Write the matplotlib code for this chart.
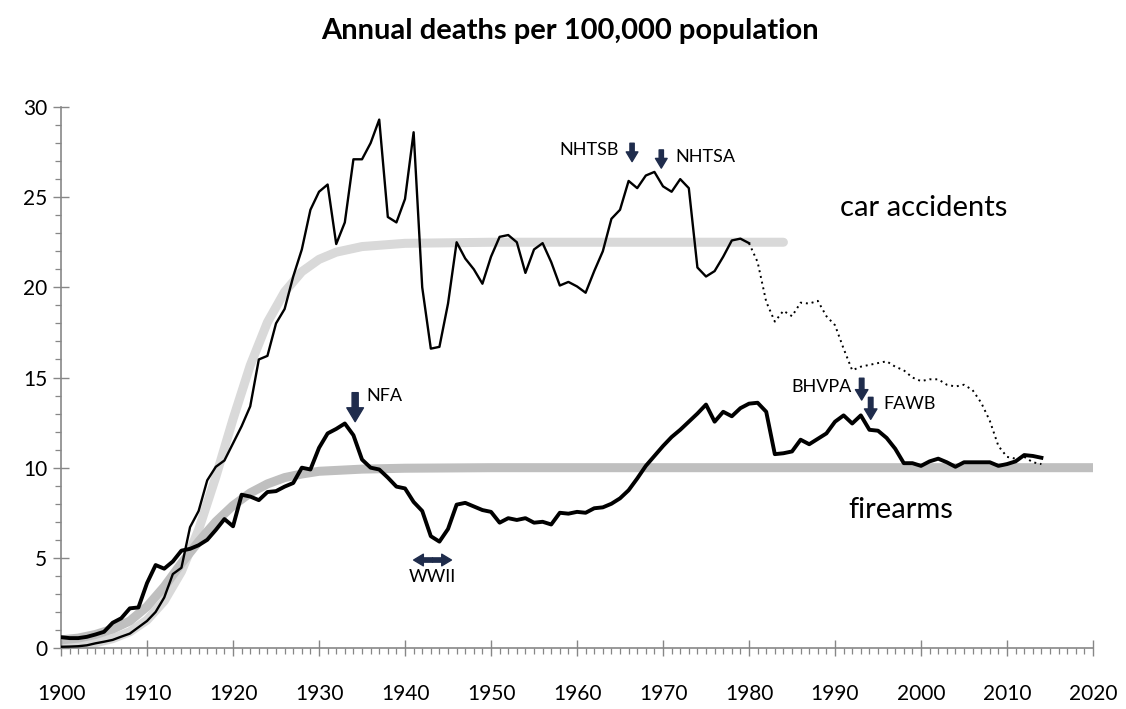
import matplotlib
matplotlib.use("Agg")
import matplotlib.pyplot as plt

plt.rcParams['font.family'] = ['Lato', 'DejaVu Sans']

# car accident deaths per 100,000 (solid part, 1900-1980)
car_years = list(range(1900, 1981))
car_rate = [0.07, 0.08, 0.10, 0.15, 0.26, 0.35, 0.45, 0.63, 0.80, 1.15,
            1.50, 2.00, 2.80, 4.10, 4.45, 6.70, 7.60, 9.30, 10.05, 10.40,
            11.35, 12.30, 13.40, 16.00, 16.20, 18.00, 18.80, 20.60, 22.10, 24.30,
            25.30, 25.70, 22.40, 23.60, 27.10, 27.10, 28.00, 29.30, 23.90, 23.60,
            24.90, 28.60, 20.00, 16.60, 16.70, 19.10, 22.50, 21.60, 21.00, 20.20,
            21.70, 22.80, 22.90, 22.50, 20.80, 22.10, 22.45, 21.40, 20.10, 20.30,
            20.05, 19.70, 20.90, 22.00, 23.80, 24.30, 25.90, 25.50, 26.20, 26.40,
            25.60, 25.30, 26.00, 25.50, 21.10, 20.60, 20.90, 21.70, 22.60, 22.70,
            22.45]

# dotted continuation 1980-2014
car_late_years = list(range(1980, 2015))
car_late_rate = [22.45, 21.40, 19.20, 18.10, 18.70, 18.40, 19.15, 19.10, 19.25, 18.40,
                 17.90, 16.60, 15.40, 15.60, 15.70, 15.80, 15.90, 15.60, 15.40, 15.00,
                 14.80, 14.90, 14.90, 14.60, 14.50, 14.60, 14.30, 13.60, 12.60, 11.20,
                 10.60, 10.50, 10.60, 10.30, 10.20]

# firearm deaths per 100,000, 1900-2014
gun_years = list(range(1900, 2015))
gun_rate = [0.60, 0.55, 0.55, 0.62, 0.75, 0.90, 1.40, 1.65, 2.20, 2.25,
            3.60, 4.60, 4.40, 4.80, 5.40, 5.50, 5.70, 6.00, 6.55, 7.15,
            6.75, 8.50, 8.40, 8.20, 8.65, 8.70, 8.95, 9.15, 10.00, 9.90,
            11.10, 11.90, 12.15, 12.45, 11.80, 10.45, 10.00, 9.90, 9.45, 8.95,
            8.85, 8.10, 7.60, 6.20, 5.90, 6.60, 7.95, 8.05, 7.85, 7.65,
            7.55, 6.95, 7.20, 7.10, 7.20, 6.95, 7.00, 6.85, 7.50, 7.45,
            7.55, 7.50, 7.75, 7.80, 8.00, 8.30, 8.75, 9.40, 10.10, 10.65,
            11.20, 11.70, 12.10, 12.55, 13.00, 13.50, 12.55, 13.10, 12.85, 13.30,
            13.55, 13.60, 13.10, 10.75, 10.80, 10.90, 11.55, 11.30, 11.60, 11.90,
            12.55, 12.90, 12.45, 12.90, 12.10, 12.05, 11.65, 11.05, 10.25, 10.25,
            10.10, 10.35, 10.50, 10.30, 10.05, 10.30, 10.30, 10.30, 10.30, 10.10,
            10.20, 10.35, 10.70, 10.65, 10.55]

# trend curves
car_trend_years = [1900, 1902, 1904, 1906, 1908, 1910, 1912, 1914, 1916, 1918,
                   1920, 1922, 1924, 1926, 1928, 1930, 1932, 1935, 1940, 1950, 1984]
car_trend = [0.10, 0.17, 0.29, 0.52, 0.90, 1.55, 2.61, 4.24, 6.56, 9.49,
             12.69, 15.67, 18.06, 19.75, 20.87, 21.55, 21.95, 22.26, 22.44, 22.50, 22.50]

gun_trend_years = [1900, 1902, 1904, 1906, 1908, 1910, 1912, 1914, 1916, 1918,
                   1920, 1922, 1924, 1926, 1928, 1930, 1935, 1940, 1950, 2020]
gun_trend = [0.45, 0.55, 0.75, 1.05, 1.50, 2.30, 3.40, 4.70, 5.90, 7.00,
             7.90, 8.60, 9.10, 9.45, 9.65, 9.80, 9.92, 9.97, 10.00, 10.00]

navy = '#1f2c4c'
axis_grey = '#878787'

fig = plt.figure(figsize=(11.26, 7.09), dpi=100)
ax = fig.add_axes([0.0542, 0.0860, 0.9165, 0.7631])

ax.plot(car_trend_years, car_trend, color='#d9d9d9', lw=6.5, solid_capstyle='round', zorder=1)
ax.plot(gun_trend_years, gun_trend, color='#bfbfbf', lw=6.5, solid_capstyle='butt', zorder=1)

ax.plot(car_years, car_rate, color='black', lw=1.7, zorder=3)
ax.plot(car_late_years, car_late_rate, color='black', lw=1.4, linestyle=(0, (1, 2)), zorder=3)
ax.plot(gun_years, gun_rate, color='black', lw=2.8, zorder=4)

ax.set_xlim(1900, 2020)
ax.set_ylim(0, 30)
ax.set_xticks(range(1900, 2021, 10))
ax.set_xticks(range(1900, 2021, 1), minor=True)
ax.set_yticks(range(0, 31, 5))
ax.set_yticks(range(0, 31, 1), minor=True)

for s in ['top', 'right']:
    ax.spines[s].set_visible(False)
for s in ['left', 'bottom']:
    ax.spines[s].set_color(axis_grey)
    ax.spines[s].set_linewidth(1.2)

ax.tick_params(which='major', direction='inout', length=12, width=1, color=axis_grey,
               labelsize=15)
ax.tick_params(which='minor', direction='out', length=4.5, width=0.9, color=axis_grey)
ax.tick_params(axis='x', which='major', pad=20)
ax.tick_params(axis='y', which='major', pad=4)

fig.text(0.506, 1 - 31 / 709, 'Annual deaths per 100,000 population',
         ha='center', va='center', fontsize=21, fontweight='bold')

ax.text(2000.3, 24.4, 'car accidents', ha='center', va='center', fontsize=21)
ax.text(1997.6, 7.65, 'firearms', ha='center', va='center', fontsize=21)


def down_arrow(x, top, tip, scale):
    ax.annotate('', xy=(x, tip), xytext=(x, top),
                arrowprops=dict(arrowstyle='simple,head_length=0.5,head_width=0.6,tail_width=0.22',
                                color=navy, shrinkA=0, shrinkB=0, mutation_scale=scale),
                zorder=5)


down_arrow(1934.2, 14.16, 12.55, 20)
ax.text(1935.5, 13.98, 'NFA', ha='left', va='center', fontsize=13)

down_arrow(1966.4, 27.99, 26.97, 14)
ax.text(1964.9, 27.62, 'NHTSB', ha='right', va='center', fontsize=13)
down_arrow(1969.8, 27.62, 26.61, 14)
ax.text(1971.4, 27.25, 'NHTSA', ha='left', va='center', fontsize=13)

down_arrow(1993.1, 14.96, 13.75, 15)
ax.text(1991.9, 14.49, 'BHVPA', ha='right', va='center', fontsize=13)
down_arrow(1994.15, 13.90, 12.68, 15)
ax.text(1995.6, 13.53, 'FAWB', ha='left', va='center', fontsize=13)

# WWII double arrow
for end in (1941.0, 1945.4):
    ax.annotate('', xy=(end, 4.88), xytext=(1943.2, 4.88),
                arrowprops=dict(arrowstyle='simple,head_length=0.5,head_width=0.6,tail_width=0.22',
                                color=navy, shrinkA=0, shrinkB=0, mutation_scale=14),
                zorder=5)
ax.text(1943.15, 3.95, 'WWII', ha='center', va='center', fontsize=13)

fig.savefig('out.png', dpi=100)
